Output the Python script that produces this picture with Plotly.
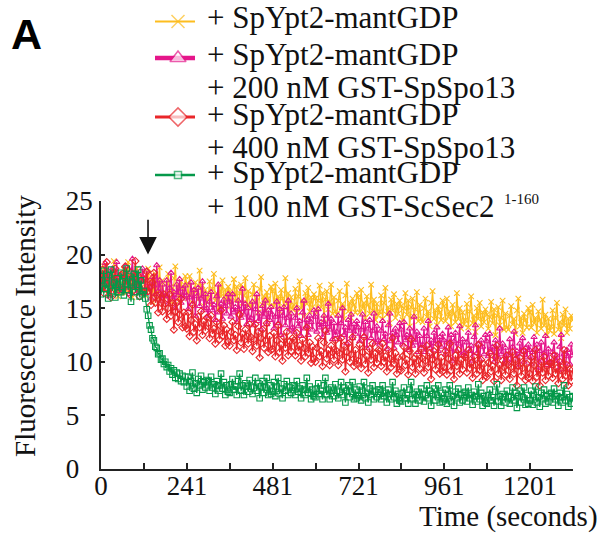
import plotly.graph_objects as go

# Fluorescence traces sampled every 4 s (0 ... 1320 s)
time_s = list(range(0, 1321, 4))

ypt2_only = [
    18.2, 16.8, 18.9, 17.2, 17.7, 16.3, 18.3, 17.5, 16.7, 19.4, 17.0, 18.0, 16.1, 17.6, 16.5,
    17.1, 18.6, 16.4, 17.9, 19.3, 16.8, 17.5, 16.0, 18.2, 17.2, 18.7, 16.5, 17.8, 16.9, 18.1,
    17.5, 16.2, 17.3, 18.7, 16.7, 18.0, 15.6, 17.4, 18.2, 16.5, 17.2, 18.8, 16.1, 17.6, 16.3,
    16.0, 17.3, 18.2, 16.5, 17.0, 15.6, 17.8, 18.9, 16.3, 17.1, 15.7, 17.5, 16.9, 16.2, 18.0,
    17.3, 15.9, 18.0, 16.3, 16.8, 15.4, 17.4, 16.6, 15.8, 18.5, 16.1, 17.1, 15.2, 16.7, 15.6,
    16.0, 17.5, 15.3, 16.8, 18.2, 15.7, 16.4, 14.9, 17.1, 16.1, 17.6, 15.4, 16.7, 15.8, 17.0,
    16.5, 15.2, 16.3, 17.7, 15.7, 17.0, 14.6, 16.4, 17.2, 15.5, 16.2, 17.8, 15.1, 16.6, 15.3,
    15.0, 16.3, 17.2, 15.5, 16.0, 14.6, 16.8, 17.9, 15.3, 16.1, 14.7, 16.5, 15.9, 15.2, 17.0,
    16.6, 15.2, 17.3, 15.6, 16.1, 14.7, 16.7, 15.9, 15.1, 17.8, 15.4, 16.4, 14.5, 16.0, 14.9,
    15.3, 16.8, 14.6, 16.1, 17.5, 15.0, 15.7, 14.2, 16.4, 15.4, 16.9, 14.7, 16.0, 15.1, 16.3,
    15.9, 14.6, 15.7, 17.1, 15.1, 16.4, 14.0, 15.8, 16.6, 14.9, 15.6, 17.2, 14.5, 16.0, 14.7,
    14.4, 15.7, 16.6, 14.9, 15.4, 14.0, 16.2, 17.3, 14.7, 15.5, 14.1, 15.9, 15.3, 14.6, 16.4,
    16.0, 14.6, 16.7, 15.0, 15.5, 14.1, 16.1, 15.3, 14.5, 17.2, 14.8, 15.8, 13.9, 15.4, 14.3,
    14.7, 16.2, 14.0, 15.5, 16.9, 14.4, 15.1, 13.6, 15.8, 14.8, 16.3, 14.1, 15.4, 14.5, 15.7,
    15.2, 13.9, 15.0, 16.4, 14.4, 15.7, 13.3, 15.1, 15.9, 14.2, 14.9, 16.5, 13.8, 15.3, 14.0,
    13.7, 15.0, 15.9, 14.2, 14.7, 13.3, 15.5, 16.6, 14.0, 14.8, 13.4, 15.2, 14.6, 13.9, 15.7,
    15.2, 13.8, 15.9, 14.2, 14.7, 13.3, 15.3, 14.5, 13.7, 16.4, 14.0, 15.0, 13.1, 14.6, 13.5,
    13.9, 15.4, 13.2, 14.7, 16.1, 13.6, 14.3, 12.8, 15.0, 14.0, 15.5, 13.3, 14.6, 13.7, 14.9,
    14.4, 13.1, 14.2, 15.6, 13.6, 14.9, 12.5, 14.3, 15.1, 13.4, 14.1, 15.7, 13.0, 14.5, 13.2,
    13.0, 14.3, 15.2, 13.5, 14.0, 12.6, 14.8, 15.9, 13.3, 14.1, 12.7, 14.5, 13.9, 13.2, 15.0,
    14.6, 13.2, 15.3, 13.6, 14.1, 12.7, 14.7, 13.9, 13.1, 15.8, 13.4, 14.4, 12.5, 14.0, 12.9,
    13.3, 14.8, 12.6, 14.1, 15.5, 13.0, 13.7, 12.2, 14.4, 13.4, 14.9, 12.7, 14.0, 13.1, 14.3,
    13.9,
]

spo13_200 = [
    18.0, 16.7, 17.8, 19.2, 17.2, 18.5, 16.1, 17.9, 18.7, 17.0, 17.7, 19.3, 16.6, 18.1, 16.8,
    16.7, 18.0, 18.9, 17.2, 17.7, 16.3, 18.5, 19.6, 17.0, 17.8, 16.4, 18.2, 17.6, 16.9, 18.7,
    17.8, 16.4, 18.5, 16.8, 17.3, 15.9, 17.9, 17.1, 16.3, 19.0, 16.6, 17.6, 15.7, 17.2, 16.1,
    16.1, 17.6, 15.4, 16.9, 18.3, 15.8, 16.5, 15.0, 17.2, 16.2, 17.7, 15.5, 16.8, 15.9, 17.1,
    16.2, 14.9, 16.0, 17.4, 15.4, 16.7, 14.3, 16.1, 16.9, 15.2, 15.9, 17.5, 14.8, 16.3, 15.0,
    14.3, 15.6, 16.5, 14.8, 15.3, 13.9, 16.1, 17.2, 14.6, 15.4, 14.0, 15.8, 15.2, 14.5, 16.3,
    15.6, 14.2, 16.3, 14.6, 15.1, 13.7, 15.7, 14.9, 14.1, 16.8, 14.4, 15.4, 13.5, 15.0, 13.9,
    14.1, 15.6, 13.4, 14.9, 16.3, 13.8, 14.5, 13.0, 15.2, 14.2, 15.7, 13.5, 14.8, 13.9, 15.1,
    14.4, 13.1, 14.2, 15.6, 13.6, 14.9, 12.5, 14.3, 15.1, 13.4, 14.1, 15.7, 13.0, 14.5, 13.2,
    12.8, 14.1, 15.0, 13.3, 13.8, 12.4, 14.6, 15.7, 13.1, 13.9, 12.5, 14.3, 13.7, 13.0, 14.8,
    14.2, 12.8, 14.9, 13.2, 13.7, 12.3, 14.3, 13.5, 12.7, 15.4, 13.0, 14.0, 12.1, 13.6, 12.5,
    12.8, 14.3, 12.1, 13.6, 15.0, 12.5, 13.2, 11.7, 13.9, 12.9, 14.4, 12.2, 13.5, 12.6, 13.8,
    13.2, 11.9, 13.0, 14.4, 12.4, 13.7, 11.3, 13.1, 13.9, 12.2, 12.9, 14.5, 11.8, 13.3, 12.0,
    11.6, 12.9, 13.8, 12.1, 12.6, 11.2, 13.4, 14.5, 11.9, 12.7, 11.3, 13.1, 12.5, 11.8, 13.6,
    13.0, 11.6, 13.7, 12.0, 12.5, 11.1, 13.1, 12.3, 11.5, 14.2, 11.8, 12.8, 10.9, 12.4, 11.3,
    11.6, 13.1, 10.9, 12.4, 13.8, 11.3, 12.0, 10.5, 12.7, 11.7, 13.2, 11.0, 12.3, 11.4, 12.6,
    12.0, 10.7, 11.8, 13.2, 11.2, 12.5, 10.1, 11.9, 12.7, 11.0, 11.7, 13.3, 10.6, 12.1, 10.8,
    10.5, 11.8, 12.7, 11.0, 11.5, 10.1, 12.3, 13.4, 10.8, 11.6, 10.2, 12.0, 11.4, 10.7, 12.5,
    11.9, 10.5, 12.6, 10.9, 11.4, 10.0, 12.0, 11.2, 10.4, 13.1, 10.7, 11.7, 9.8, 11.3, 10.2,
    10.6, 12.1, 9.9, 11.4, 12.8, 10.3, 11.0, 9.5, 11.7, 10.7, 12.2, 10.0, 11.3, 10.4, 11.6,
    11.1, 9.8, 10.9, 12.3, 10.3, 11.6, 9.2, 11.0, 11.8, 10.1, 10.8, 12.4, 9.7, 11.2, 9.9,
    9.6, 10.9, 11.8, 10.1, 10.6, 9.2, 11.4, 12.5, 9.9, 10.7, 9.3, 11.1, 10.5, 9.8, 11.6,
    10.6,
]

spo13_400 = [
    17.1, 18.6, 16.4, 17.9, 19.3, 16.8, 17.5, 16.0, 18.2, 17.2, 18.7, 16.5, 17.8, 16.9, 18.1,
    18.2, 16.8, 18.9, 17.2, 17.7, 16.3, 18.3, 17.5, 16.7, 19.4, 17.0, 18.0, 16.1, 17.6, 16.5,
    16.5, 17.7, 18.4, 16.6, 16.9, 15.3, 17.4, 18.3, 15.5, 16.2, 14.6, 16.3, 15.5, 14.7, 16.3,
    15.4, 14.0, 15.0, 16.3, 14.3, 15.5, 13.0, 14.7, 15.5, 13.7, 14.4, 15.9, 13.2, 14.6, 13.3,
    13.1, 14.6, 12.4, 13.9, 15.3, 12.8, 13.5, 12.0, 14.2, 13.2, 14.7, 12.5, 13.8, 12.9, 14.1,
    13.6, 12.2, 14.3, 12.6, 13.1, 11.7, 13.7, 12.9, 12.1, 14.8, 12.4, 13.4, 11.5, 13.0, 11.9,
    11.5, 12.8, 13.7, 12.0, 12.5, 11.1, 13.3, 14.4, 11.8, 12.6, 11.2, 13.0, 12.4, 11.7, 13.5,
    12.3, 11.0, 12.1, 13.5, 11.5, 12.8, 10.4, 12.2, 13.0, 11.3, 12.0, 13.6, 10.9, 12.4, 11.1,
    11.2, 12.7, 10.5, 12.0, 13.4, 10.9, 11.6, 10.1, 12.3, 11.3, 12.8, 10.6, 11.9, 11.0, 12.2,
    12.0, 10.6, 12.7, 11.0, 11.5, 10.1, 12.1, 11.3, 10.5, 13.2, 10.8, 11.8, 9.9, 11.4, 10.3,
    10.0, 11.3, 12.2, 10.5, 11.0, 9.6, 11.8, 12.9, 10.3, 11.1, 9.7, 11.5, 10.9, 10.2, 12.0,
    11.0, 9.7, 10.8, 12.2, 10.2, 11.5, 9.1, 10.9, 11.7, 10.0, 10.7, 12.3, 9.6, 11.1, 9.8,
    10.1, 11.6, 9.4, 10.9, 12.3, 9.8, 10.5, 9.0, 11.2, 10.2, 11.7, 9.5, 10.8, 9.9, 11.1,
    11.0, 9.6, 11.7, 10.0, 10.5, 9.1, 11.1, 10.3, 9.5, 12.2, 9.8, 10.8, 8.9, 10.4, 9.3,
    9.2, 10.5, 11.4, 9.7, 10.2, 8.8, 11.0, 12.1, 9.5, 10.3, 8.9, 10.7, 10.1, 9.4, 11.2,
    10.3, 9.0, 10.1, 11.5, 9.5, 10.8, 8.4, 10.2, 11.0, 9.3, 10.0, 11.6, 8.9, 10.4, 9.1,
    9.5, 11.0, 8.8, 10.3, 11.7, 9.2, 9.9, 8.4, 10.6, 9.6, 11.1, 8.9, 10.2, 9.3, 10.5,
    10.4, 9.0, 11.1, 9.4, 9.9, 8.5, 10.5, 9.7, 8.9, 11.6, 9.2, 10.2, 8.3, 9.8, 8.7,
    8.6, 9.9, 10.8, 9.1, 9.6, 8.2, 10.4, 11.5, 8.9, 9.7, 8.3, 10.1, 9.5, 8.8, 10.6,
    9.7, 8.4, 9.5, 10.9, 8.9, 10.2, 7.8, 9.6, 10.4, 8.7, 9.4, 11.0, 8.3, 9.8, 8.5,
    8.9, 10.4, 8.2, 9.7, 11.1, 8.6, 9.3, 7.8, 10.0, 9.0, 10.5, 8.3, 9.6, 8.7, 9.9,
    9.9, 8.5, 10.6, 8.9, 9.4, 8.0, 10.0, 9.2, 8.4, 11.1, 8.7, 9.7, 7.8, 9.3, 8.2,
    9.3,
]

sec2_100 = [
    16.3, 17.6, 18.5, 16.8, 17.3, 15.9, 18.1, 18.6, 16.6, 17.4, 16.0, 17.8, 17.2, 16.5, 18.3,
    17.5, 16.2, 17.3, 18.7, 16.7, 18.0, 15.6, 17.4, 18.2, 16.5, 17.2, 18.6, 16.1, 17.6, 16.3,
    16.6, 15.9, 14.9, 14.3, 13.4, 13.0, 12.2, 12.0, 11.4, 11.3, 10.7, 10.8, 10.2, 10.3, 9.8,
    10.0, 9.5, 9.7, 9.1, 9.4, 8.8, 9.2, 8.5, 9.0, 8.4, 8.9, 8.2, 8.7, 8.1, 8.6,
    7.7, 8.6, 7.3, 8.2, 9.0, 7.5, 8.0, 7.1, 8.4, 7.8, 8.7, 7.4, 8.1, 7.6, 8.3,
    8.2, 7.3, 8.6, 7.6, 7.9, 7.0, 8.2, 7.8, 7.3, 8.9, 7.5, 8.1, 6.9, 7.8, 7.2,
    7.1, 7.9, 8.4, 7.4, 7.7, 6.9, 8.2, 8.9, 7.3, 7.8, 6.9, 8.0, 7.7, 7.2, 8.3,
    7.7, 7.0, 7.6, 8.5, 7.3, 8.0, 6.6, 7.7, 8.2, 7.1, 7.6, 8.5, 6.9, 7.8, 7.0,
    7.2, 8.1, 6.8, 7.7, 8.5, 7.0, 7.5, 6.6, 7.9, 7.3, 8.2, 6.9, 7.6, 7.1, 7.8,
    7.8, 6.9, 8.2, 7.2, 7.5, 6.6, 7.8, 7.4, 6.9, 8.5, 7.1, 7.7, 6.5, 7.4, 6.8,
    6.7, 7.5, 8.0, 7.0, 7.3, 6.5, 7.8, 8.5, 6.9, 7.4, 6.5, 7.6, 7.3, 6.8, 7.9,
    7.3, 6.6, 7.2, 8.1, 6.9, 7.6, 6.2, 7.3, 7.8, 6.7, 7.2, 8.1, 6.5, 7.4, 6.6,
    6.8, 7.7, 6.4, 7.3, 8.1, 6.6, 7.1, 6.2, 7.5, 6.9, 7.8, 6.5, 7.2, 6.7, 7.4,
    7.4, 6.5, 7.8, 6.8, 7.1, 6.2, 7.4, 7.0, 6.5, 8.1, 6.7, 7.3, 6.1, 7.0, 6.4,
    6.3, 7.1, 7.6, 6.6, 6.9, 6.1, 7.4, 8.1, 6.5, 7.0, 6.1, 7.2, 6.9, 6.4, 7.5,
    7.0, 6.3, 6.9, 7.8, 6.6, 7.3, 5.9, 7.0, 7.5, 6.4, 6.9, 7.8, 6.2, 7.1, 6.3,
    6.5, 7.4, 6.1, 7.0, 7.8, 6.3, 6.8, 5.9, 7.2, 6.6, 7.5, 6.2, 6.9, 6.4, 7.1,
    7.2, 6.3, 7.6, 6.6, 6.9, 6.0, 7.2, 6.8, 6.3, 7.9, 6.5, 7.1, 5.9, 6.8, 6.2,
    6.1, 6.9, 7.4, 6.4, 6.7, 5.9, 7.2, 7.9, 6.3, 6.8, 5.9, 7.0, 6.7, 6.2, 7.3,
    6.8, 6.1, 6.7, 7.6, 6.4, 7.1, 5.7, 6.8, 7.3, 6.2, 6.7, 7.6, 6.0, 6.9, 6.1,
    6.4, 7.3, 6.0, 6.9, 7.7, 6.2, 6.7, 5.8, 7.1, 6.5, 7.4, 6.1, 6.8, 6.3, 7.0,
    7.1, 6.2, 7.5, 6.5, 6.8, 5.9, 7.1, 6.7, 6.2, 7.8, 6.4, 7.0, 5.8, 6.7, 6.1,
    6.8,
]

legend_lines = [
    ["+ SpYpt2-mantGDP"],
    ["+ SpYpt2-mantGDP", "+ 200 nM GST-SpSpo13"],
    ["+ SpYpt2-mantGDP", "+ 400 nM GST-SpSpo13"],
    ["+ SpYpt2-mantGDP", "+ 100 nM GST-ScSec2"],
]
sec2_superscript = "1-160"

x_tick_vals = [0, 120, 241, 361, 481, 601, 721, 841, 961, 1081, 1201, 1321]
x_tick_text = ["0", "", "241", "", "481", "", "721", "", "961", "", "1201", ""]
y_tick_vals = [0, 5, 10, 15, 20, 25]
y_tick_text = ["0", "5", "10", "15", "20", "25"]

injection_time = 131.6
arrow_tip, arrow_tail = 20.0, 23.4

for s in (ypt2_only, spo13_200, spo13_400, sec2_100):
    assert len(s) == len(time_s), len(s)

# ---- page geometry ---------------------------------------------------------
W, H = 602, 535
L, R, B = 101, 29, 66
PLOT_TOP = 201                  # pixel row of the y = 25 tick
PAPER_H = H - B                 # paper spans from the top edge down to the x axis
PAPER_W = W - L - R

def px(x):
    return (x - L) / PAPER_W

def py(y):
    return (PAPER_H - y) / PAPER_H

SERIF = "Liberation Serif"
INK = "#111111"
series = [
    dict(y=ypt2_only, color="#FDBD1F", sym="x-thin", lw=2.2, msize=13, fill="rgba(0,0,0,0)"),
    dict(y=spo13_200, color="#E5168A", sym="triangle-up", lw=4.5, msize=14, fill="white"),
    dict(y=spo13_400, color="#E9262A", sym="diamond", lw=3.0, msize=14, fill="white"),
    dict(y=sec2_100, color="#05994A", sym="square", lw=2.5, msize=7, fill="white"),
]

fig = go.Figure()
for s in series:
    fig.add_trace(go.Scatter(
        x=time_s, y=s["y"], mode="lines+markers",
        line=dict(color=s["color"], width=1.3),
        marker=dict(symbol=s["sym"] + "-open", size=5.5, color=s["color"],
                    line=dict(color=s["color"], width=1.1)),
        showlegend=False, hoverinfo="skip",
    ))

# key drawn on a pixel-unit overlay (x2/y2) above the plot
key_rows_y = [21.5, 58, 117, 175]
text_rows_y = [[17.5], [54.5, 87.5], [114.5, 147.5], [172.5, 206.5]]
key_x = [155, 178, 195]
text_x = 205
annotations = []
for s, ky, lines, rows in zip(series, key_rows_y, legend_lines, text_rows_y):
    fig.add_trace(go.Scatter(
        x=key_x, y=[ky] * 3, xaxis="x2", yaxis="y2", mode="lines+markers",
        line=dict(color=s["color"], width=s["lw"]),
        marker=dict(symbol=s["sym"], size=[0, s["msize"], 0], color=s["fill"],
                    line=dict(color=s["color"], width=1.5)),
        showlegend=False, hoverinfo="skip",
    ))
    for txt, ty in zip(lines, rows):
        annotations.append(dict(text=txt, x=px(text_x), y=py(ty), xref="paper", yref="paper",
                                xanchor="left", yanchor="middle", showarrow=False,
                                font=dict(family=SERIF, size=31, color=INK)))
annotations.append(dict(text=sec2_superscript, x=px(502), y=py(199), xref="paper", yref="paper",
                        xanchor="left", yanchor="middle", showarrow=False,
                        font=dict(family=SERIF, size=15, color=INK)))

# panel letter, axis titles and the injection arrow
annotations += [
    dict(text="<b>A</b>", x=px(9), y=py(34), xref="paper", yref="paper",
         xanchor="left", yanchor="middle", showarrow=False,
         font=dict(family="Liberation Sans", size=43, color="black")),
    dict(text="Fluorescence Intensity", x=px(25), y=py(326), xref="paper", yref="paper",
         xanchor="center", yanchor="middle", textangle=-90, showarrow=False,
         font=dict(family=SERIF, size=29, color=INK)),
    dict(text="Time (seconds)", x=px(600), y=py(516), xref="paper", yref="paper",
         xanchor="right", yanchor="middle", showarrow=False,
         font=dict(family=SERIF, size=29, color=INK)),
    dict(x=injection_time, y=arrow_tip, ax=injection_time, ay=arrow_tail,
         xref="x", yref="y", axref="x", ayref="y", text="", showarrow=True,
         arrowhead=2, arrowsize=2.2, arrowwidth=1.6, arrowcolor=INK, standoff=0),
]

pad = "\u00a0\u00a0"
fig.update_layout(
    width=W, height=H, margin=dict(l=L, r=R, t=0, b=B, pad=0, autoexpand=False),
    paper_bgcolor="white", plot_bgcolor="rgba(0,0,0,0)",
    font=dict(family=SERIF, size=27, color=INK),
    annotations=annotations,
    xaxis=dict(range=[0, 1321], tickvals=x_tick_vals, ticktext=x_tick_text,
               ticks="inside", ticklen=6, tickwidth=1.5, tickcolor="#222",
               showline=True, linecolor="#222", linewidth=1.5,
               showgrid=False, zeroline=False, tickfont=dict(family=SERIF, size=27),
               ticklabelstandoff=-8),
    yaxis=dict(range=[0, 25], domain=[0, (PAPER_H - PLOT_TOP) / PAPER_H],
               tickvals=y_tick_vals,
               ticktext=[t + pad * (2 - len(t)) for t in y_tick_text],
               ticks="inside", ticklen=4, tickwidth=1.5, tickcolor="#222",
               showline=True, linecolor="#222", linewidth=1.5,
               showgrid=False, zeroline=False, tickfont=dict(family=SERIF, size=27),
               ticklabelstandoff=1),
    xaxis2=dict(range=[L, W - R], domain=[0, 1], anchor="y2", visible=False),
    yaxis2=dict(range=[PAPER_H, 0], domain=[0, 1], anchor="x2", visible=False),
)

fig.write_html("out.html")
